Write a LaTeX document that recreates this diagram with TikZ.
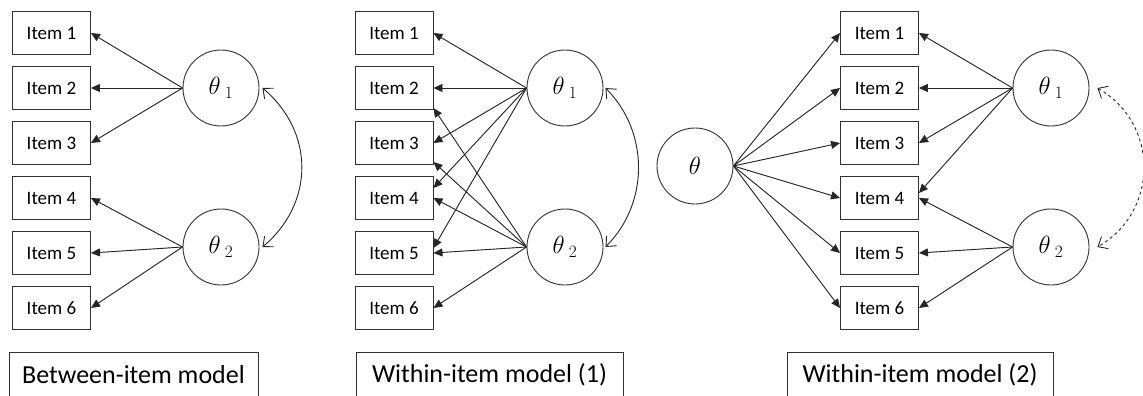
\documentclass[tikz,border=0pt]{standalone}
\usepackage{fontspec}
\setsansfont{Carlito}
\usetikzlibrary{arrows.meta}
\begin{document}
\begin{tikzpicture}[x=1pt,y=-1pt,
  item/.style={draw=black!80, line width=0.9pt, minimum width=78pt, minimum height=43pt, inner sep=0pt, font=\sffamily\fontsize{19}{19}\selectfont},
  lat/.style={circle, draw=black!80, line width=0.9pt, minimum size=76pt, inner sep=0pt, font=\fontsize{24}{24}\selectfont},
  load/.style={-{Triangle[length=9pt,width=8pt]}, line width=0.9pt, draw=black!85, fill=black!85},
  cov/.style={arrows={Straight Barb[length=8pt,width=14pt]-Straight Barb[length=8pt,width=14pt]}, line width=0.9pt, draw=black!85},
  captionbox/.style={draw=black!80, line width=0.9pt, minimum height=46pt, inner sep=0pt, font=\sffamily\fontsize{26}{26}\selectfont}
]
\useasboundingbox (0,0) rectangle (1143,396);

% ---------- Panel 1 ----------
\foreach \k/\y in {1/33,2/88,3/143,4/198,5/253,6/308}
  \node[item] (a\k) at (51.5,\y) {Item \k};
\node[lat] (at1) at (221,88) {$\theta_{\kern5pt 1}$};
\node[lat] (at2) at (221,247) {$\theta_{\kern5pt 2}$};
\foreach \k in {1,2,3} \draw[load] (at1.west) -- (a\k.east);
\foreach \k in {4,5,6} \draw[load] (at2.west) -- (a\k.east);
\draw[cov] ([xshift=3pt]at1.east) to[out=-40,in=40,looseness=1.1] ([xshift=3pt]at2.east);
\node[captionbox, minimum width=249pt] (acap) at (133.5,375) {Between-item model};

% ---------- Panel 2 ----------
\foreach \k/\y in {1/33,2/88,3/143,4/198,5/253,6/308}
  \node[item] (b\k) at (394,\y) {Item \k};
\node[lat] (bt1) at (565,88) {$\theta_{\kern5pt 1}$};
\node[lat] (bt2) at (565,247) {$\theta_{\kern5pt 2}$};
\draw[load] (bt1.west) -- (b1.east);
\draw[load] (bt1.west) -- (b2.east);
\draw[load] (bt1.west) -- (b3.east);
\draw[load] (bt1.west) -- ([yshift=10pt]b4.east);
\draw[load] (bt1.west) -- ([yshift=5pt]b5.east);
\draw[load] (bt2.west) -- ([yshift=-20pt]b2.east);
\draw[load] (bt2.west) -- ([yshift=-19pt]b3.east);
\draw[load] (bt2.west) -- (b4.east);
\draw[load] (bt2.west) -- (b5.east);
\draw[load] (bt2.west) -- (b6.east);
\draw[cov] ([xshift=2pt]bt1.east) to[out=-45,in=45,looseness=1] ([xshift=2pt]bt2.east);
\node[captionbox, minimum width=267pt] (bcap) at (489.5,375) {Within-item model (1)};

% ---------- Panel 3 ----------
\foreach \k/\y in {1/33,2/88,3/143,4/198,5/253,6/308}
  \node[item] (c\k) at (879.5,\y) {Item \k};
\node[lat] (ct) at (695,166) {$\theta$};
\node[lat] (ct1) at (1051,88) {$\theta_{\kern5pt 1}$};
\node[lat] (ct2) at (1051,247) {$\theta_{\kern5pt 2}$};
\foreach \k in {1,...,6} \draw[load] (ct.east) -- (c\k.west);
\draw[load] (ct1.west) -- (c1.east);
\draw[load] (ct1.west) -- (c2.east);
\draw[load] (ct1.west) -- (c3.east);
\draw[load] (ct1.west) -- ([yshift=5pt]c4.east);
\draw[load] (ct2.west) -- (c4.east);
\draw[load] (ct2.west) -- (c5.east);
\draw[load] (ct2.west) -- (c6.east);
\draw[cov, dashed] ([xshift=8pt]ct1.east) to[out=-30,in=30,looseness=1.15] ([xshift=8pt]ct2.east);
\node[captionbox, minimum width=266pt] (ccap) at (920,375) {Within-item model (2)};
\end{tikzpicture}
\end{document}
